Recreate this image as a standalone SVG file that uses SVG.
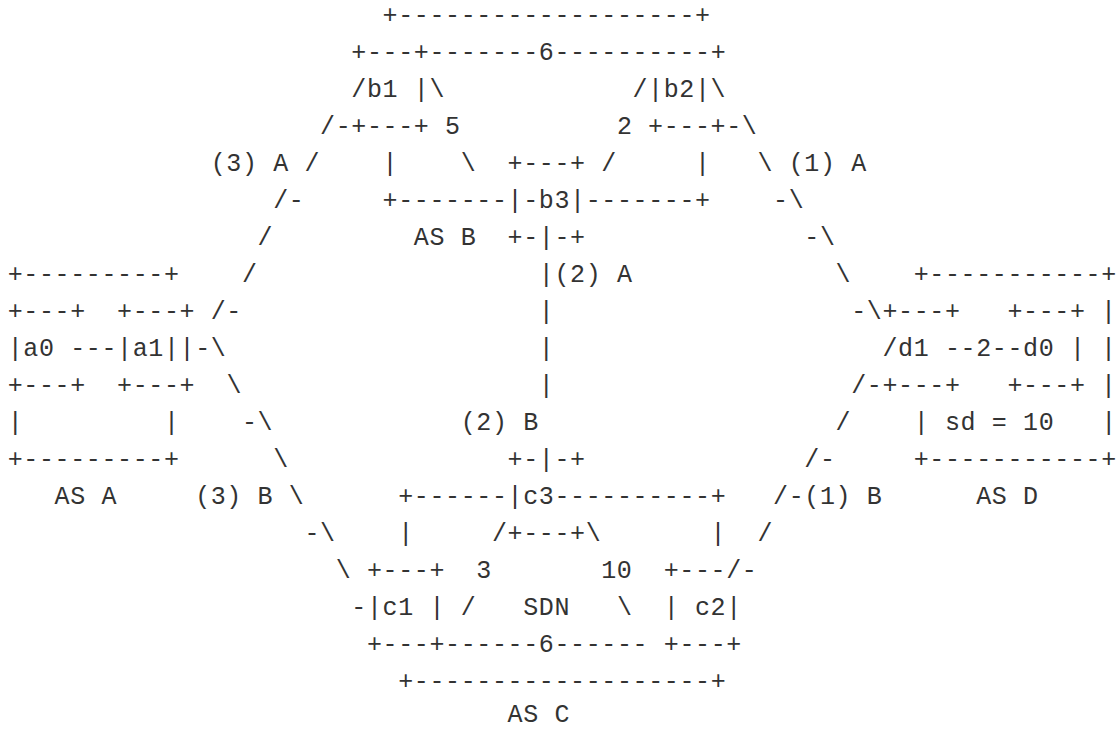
<svg xmlns="http://www.w3.org/2000/svg" width="1120" height="729" viewBox="0 0 1120 729" xml:space="preserve">
<style>
text{font-family:"Liberation Mono","DejaVu Sans Mono",monospace;font-size:25px;letter-spacing:0.62px;fill:#333;white-space:pre}
</style>
<rect width="1120" height="729" fill="#fff"/>
<g id="as-a">
<text x="7.7" y="282">+---------+</text>
<text x="7.7" y="319">+---+  +---+</text>
<text x="7.7" y="356">|a0 ---|a1||</text>
<text x="7.7" y="393">+---+  +---+</text>
<text x="7.7" y="430">|</text><text x="163.9" y="430">|</text>
<text x="7.7" y="467">+---------+</text>
<text x="54.56" y="504">AS A</text>
</g>
<g id="as-b">
<text x="382.58" y="23">+-------------------+</text>
<text x="351.34" y="60">+---+-------6----------+</text>
<text x="366.96" y="97">b1 |</text><text x="648.12" y="97">|b2|</text>
<text x="351.34" y="134">+---+</text><text x="648.12" y="134">+---+</text>
<text x="382.58" y="171">|</text><text x="507.54" y="171">+---+</text><text x="694.98" y="171">|</text>
<text x="382.58" y="208">+-------|-b3|-------+</text>
<text x="413.82" y="245">AS B</text><text x="507.54" y="245">+-|-+</text>
</g>
<g id="as-c">
<text x="507.54" y="467">+-|-+</text>
<text x="398.2" y="504">+------|c3----------+</text>
<text x="398.2" y="541">|</text><text x="507.54" y="541">+---+</text><text x="710.6" y="541">|</text>
<text x="366.96" y="578">+---+</text><text x="663.74" y="578">+---</text>
<text x="366.96" y="615">|c1 |</text><text x="523.16" y="615">SDN</text><text x="663.74" y="615">| c2|</text>
<text x="366.96" y="652">+---+------6------ +---+</text>
<text x="398.2" y="689">+-------------------+</text>
<text x="507.54" y="721.5">AS C</text>
</g>
<g id="as-d">
<text x="913.66" y="282">+-----------+</text>
<text x="882.42" y="319">+---+   +---+ |</text>
<text x="898.04" y="356">d1 --2--d0 | |</text>
<text x="882.42" y="393">+---+   +---+ |</text>
<text x="913.66" y="430">| sd = 10   |</text>
<text x="913.66" y="467">+-----------+</text>
<text x="976.14" y="504">AS D</text>
</g>
<g id="connectors">
<text x="351.34" y="97">/</text><text x="429.44" y="97">\</text><text x="632.5" y="97">/</text><text x="710.6" y="97">\</text>
<text x="320.1" y="134">/-</text><text x="445.06" y="134">5</text><text x="616.88" y="134">2</text><text x="726.22" y="134">-\</text>
<text x="210.76" y="171">(3) A /</text><text x="460.68" y="171">\</text><text x="601.26" y="171">/</text><text x="757.46" y="171">\ (1) A</text>
<text x="273.24" y="208">/-</text><text x="773.08" y="208">-\</text>
<text x="257.62" y="245">/</text><text x="804.32" y="245">-\</text>
<text x="242" y="282">/</text><text x="538.78" y="282">|(2) A</text><text x="835.56" y="282">\</text>
<text x="210.76" y="319">/-</text><text x="538.78" y="319">|</text><text x="851.18" y="319">-\</text>
<text x="195.14" y="356">-\</text><text x="538.78" y="356">|</text><text x="882.42" y="356">/</text>
<text x="226.38" y="393">\</text><text x="538.78" y="393">|</text><text x="851.18" y="393">/-</text>
<text x="242" y="430">-\</text><text x="460.68" y="430">(2) B</text><text x="835.56" y="430">/</text>
<text x="273.24" y="467">\</text><text x="804.32" y="467">/-</text>
<text x="195.14" y="504">(3) B \</text><text x="773.08" y="504">/-(1) B</text>
<text x="304.48" y="541">-\</text><text x="491.92" y="541">/</text><text x="585.64" y="541">\</text><text x="757.46" y="541">/</text>
<text x="335.72" y="578">\</text><text x="476.3" y="578">3</text><text x="601.26" y="578">10</text><text x="726.22" y="578">/-</text>
<text x="351.34" y="615">-</text><text x="460.68" y="615">/</text><text x="616.88" y="615">\</text>
</g>
</svg>
